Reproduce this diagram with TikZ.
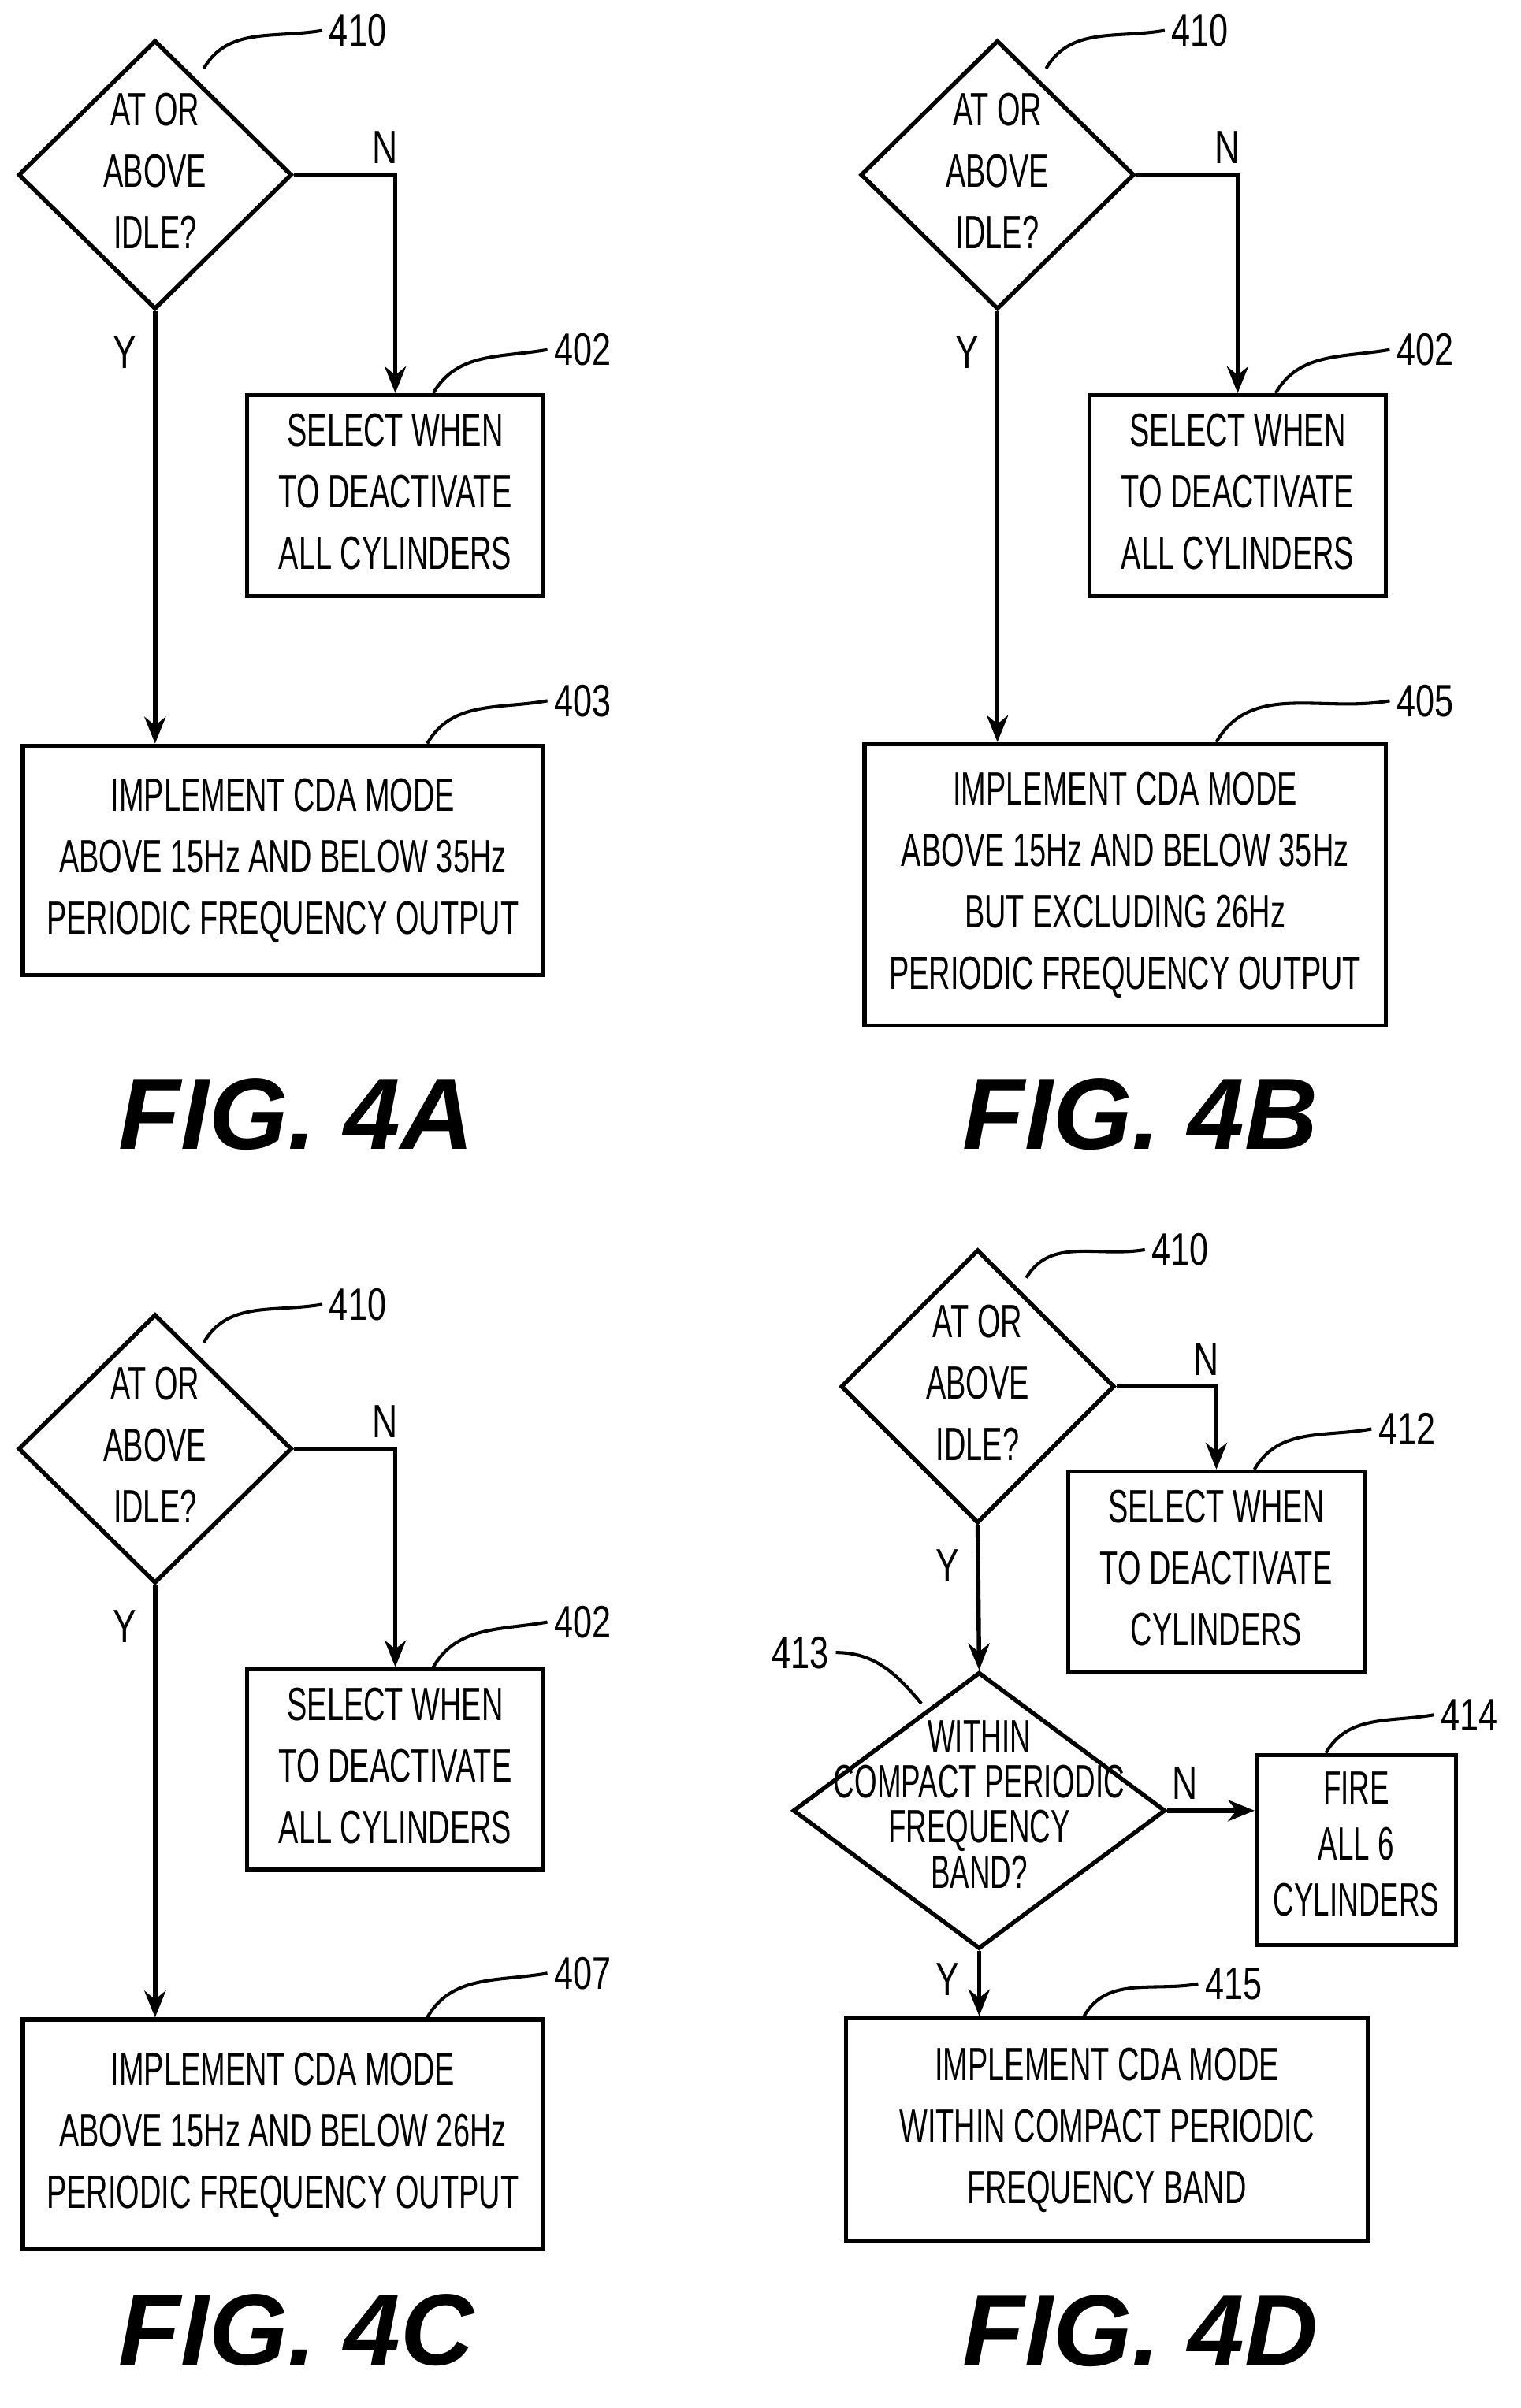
\documentclass[tikz,border=0pt]{standalone}
\usepackage{fontspec}
\setmainfont{Liberation Sans}
\usetikzlibrary{shapes.geometric, arrows.meta}
\newcommand{\nar}[1]{\scalebox{0.64}[1]{\fontsize{17.5}{23}\selectfont\begin{tabular}{@{}c@{}}#1\end{tabular}}}
\newcommand{\narD}[1]{\scalebox{0.62}[1]{\fontsize{17.5}{15.5}\selectfont\begin{tabular}{@{}c@{}}#1\end{tabular}}}
\tikzset{
  box/.style={draw, line width=1.6pt, inner sep=0pt},
  dec/.style={draw, diamond, line width=1.6pt, inner sep=0pt},
  flow/.style={line width=1.6pt, -{Stealth[length=10pt,width=8pt]}},
  lead/.style={line width=1.2pt},
  yn/.style={font=\fontsize{17.5}{20}\selectfont, xscale=0.75},
  ref/.style={font=\fontsize{17}{20}\selectfont, xscale=0.75, anchor=west},
  fig/.style={font=\fontsize{38}{40}\selectfont\bfseries\itshape}
}
\begin{document}
\begin{tikzpicture}[x=0.02cm, y=-0.02cm]
\useasboundingbox (0,0) rectangle (1000,1584);
% FIG. 4A
\node[dec, minimum width=3.6cm, minimum height=3.54cm, label=center:{\nar{AT OR\\ABOVE\\IDLE?}}] (d410a) at (102,115) {};
\node[box, minimum width=3.9cm, minimum height=2.64cm] (b402a) at (260,326) {\nar{SELECT WHEN\\TO DEACTIVATE\\ALL CYLINDERS}};
\node[box, minimum width=6.84cm, minimum height=3.02cm] (b403) at (186,566) {\nar{IMPLEMENT CDA MODE\\ABOVE 15Hz AND BELOW 35Hz\\PERIODIC FREQUENCY OUTPUT}};
\draw[flow] (d410a.east) -| (b402a.north) node[yn, pos=0.45, above] {N};
\draw[flow] (d410a.south) -- (b403.north -| d410a.south);
\node[yn] (ya) at (82,232) {Y};
\node[ref] (t410a) at (212,20) {410};
\node[ref] (t402a) at (360,230) {402};
\node[ref] (t403) at (360,461) {403};
\draw[lead] (d410a.north) ++(32,20) to[out=60,in=190] (t410a.west);
\draw[lead] ([xshift=0.5cm]b402a.north) to[out=60,in=190] (t402a.west);
\draw[lead] ([xshift=1.9cm]b403.north) to[out=60,in=190] (t403.west);
\node[fig] (fa) at (195,733) {FIG. 4A};
% FIG. 4B
\node[dec, minimum width=3.6cm, minimum height=3.54cm, label=center:{\nar{AT OR\\ABOVE\\IDLE?}}] (d410b) at (656,115) {};
\node[box, minimum width=3.9cm, minimum height=2.64cm] (b402b) at (814,326) {\nar{SELECT WHEN\\TO DEACTIVATE\\ALL CYLINDERS}};
\node[box, minimum width=6.86cm, minimum height=3.7cm] (b405) at (740,582) {\nar{IMPLEMENT CDA MODE\\ABOVE 15Hz AND BELOW 35Hz\\BUT EXCLUDING 26Hz\\PERIODIC FREQUENCY OUTPUT}};
\draw[flow] (d410b.east) -| (b402b.north) node[yn, pos=0.45, above] {N};
\draw[flow] (d410b.south) -- (b405.north -| d410b.south);
\node[yn] (yb) at (636,232) {Y};
\node[ref] (t410b) at (766,20) {410};
\node[ref] (t402b) at (914,230) {402};
\node[ref] (t405) at (914,461) {405};
\draw[lead] (d410b.north) ++(32,20) to[out=60,in=190] (t410b.west);
\draw[lead] ([xshift=0.5cm]b402b.north) to[out=60,in=190] (t402b.west);
\draw[lead] ([xshift=1.2cm]b405.north) to[out=60,in=190] (t405.west);
\node[fig] (fb) at (750,733) {FIG. 4B};
% FIG. 4C
\node[dec, minimum width=3.6cm, minimum height=3.54cm, label=center:{\nar{AT OR\\ABOVE\\IDLE?}}] (d410c) at (102,953) {};
\node[box, minimum width=3.9cm, minimum height=2.64cm] (b402c) at (260,1164) {\nar{SELECT WHEN\\TO DEACTIVATE\\ALL CYLINDERS}};
\node[box, minimum width=6.84cm, minimum height=3.02cm] (b407) at (186,1404) {\nar{IMPLEMENT CDA MODE\\ABOVE 15Hz AND BELOW 26Hz\\PERIODIC FREQUENCY OUTPUT}};
\draw[flow] (d410c.east) -| (b402c.north) node[yn, pos=0.45, above] {N};
\draw[flow] (d410c.south) -- (b407.north -| d410c.south);
\node[yn] (yc) at (82,1070) {Y};
\node[ref] (t410c) at (212,858) {410};
\node[ref] (t402c) at (360,1067) {402};
\node[ref] (t407) at (360,1298) {407};
\draw[lead] (d410c.north) ++(32,20) to[out=60,in=190] (t410c.west);
\draw[lead] ([xshift=0.5cm]b402c.north) to[out=60,in=190] (t402c.west);
\draw[lead] ([xshift=1.9cm]b407.north) to[out=60,in=190] (t407.west);
\node[fig] (fc) at (195,1533) {FIG. 4C};
% FIG. 4D
\node[dec, minimum width=3.6cm, minimum height=3.6cm, label=center:{\nar{AT OR\\ABOVE\\IDLE?}}] (d410d) at (643,912) {};
\node[box, minimum width=3.9cm, minimum height=2.64cm] (b412) at (800,1034) {\nar{SELECT WHEN\\TO DEACTIVATE\\CYLINDERS}};
\node[dec, minimum width=4.9cm, minimum height=3.64cm, label=center:{\narD{WITHIN\\COMPACT PERIODIC\\FREQUENCY\\BAND?}}] (d413) at (644,1191) {};
\node[box, minimum width=2.62cm, minimum height=2.5cm] (b414) at (892,1217) {\narD{FIRE\\[4pt]ALL 6\\[4pt]CYLINDERS}};
\node[box, minimum width=6.86cm, minimum height=2.94cm] (b415) at (728,1401) {\nar{IMPLEMENT CDA MODE\\WITHIN COMPACT PERIODIC\\FREQUENCY BAND}};
\draw[flow] (d410d.east) -| (b412.north) node[yn, pos=0.45, above] {N};
\draw[flow] (d410d.south) -- (d413.north);
\draw[flow] (d413.east) -- (b414.west |- d413.east) node[yn, pos=0.2, above] {N};
\draw[flow] (d413.south) -- (b415.north -| d413.south);
\node[yn] (yd1) at (623,1030) {Y};
\node[yn] (yd2) at (623,1302) {Y};
\node[ref] (t410d) at (753,822) {410};
\node[ref] (t412) at (902,940) {412};
\node[ref] (t413) at (503,1087) {413};
\node[ref] (t414) at (943,1128) {414};
\node[ref] (t415) at (788,1305) {415};
\draw[lead] (d410d.north) ++(32,20) to[out=60,in=190] (t410d.west);
\draw[lead] ([xshift=0.5cm]b412.north) to[out=60,in=190] (t412.west);
\draw[lead] (t413.east) to[out=0,in=130] ([shift={(-38,22)}]d413.north);
\draw[lead] ([xshift=-0.4cm]b414.north) to[out=60,in=190] (t414.west);
\draw[lead] ([xshift=-0.3cm]b415.north) to[out=60,in=190] (t415.west);
\node[fig] (fd) at (750,1533) {FIG. 4D};
\end{tikzpicture}
\end{document}
